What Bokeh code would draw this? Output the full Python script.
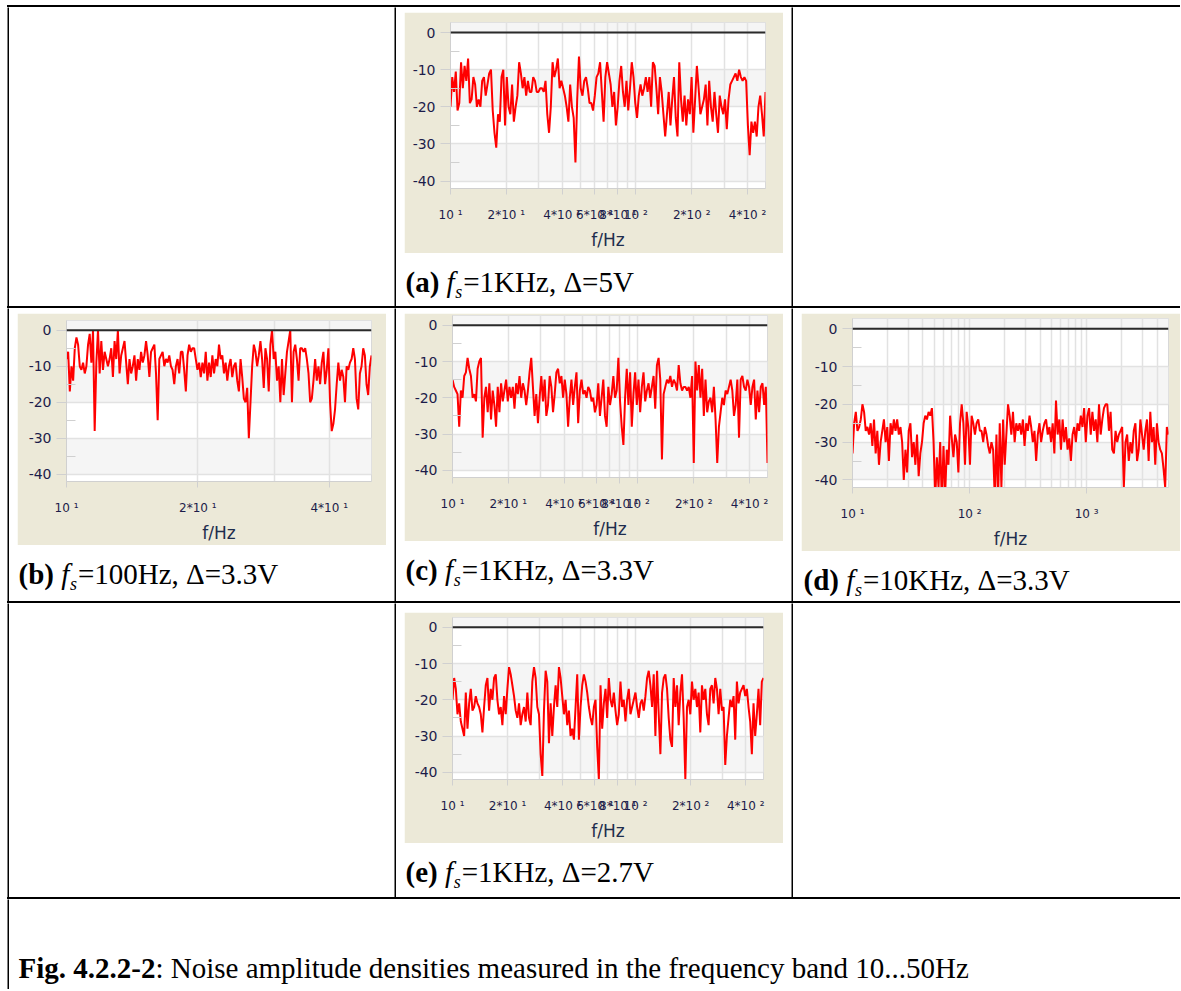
import numpy as np
from bokeh.plotting import figure
from bokeh.layouts import row, column
from bokeh.models import Spacer, Range1d, FixedTicker, Span, BoxAnnotation
from bokeh.core.properties import value
from bokeh.embed import file_html
from bokeh.resources import INLINE

# ------------------------------------------------------------------ data
Y_RANGE = (-42.0, 2.7)
Y_TICKS = [-40, -30, -20, -10, 0]
Y_TICK_LABELS = ["-40", "-30", "-20", "-10", "0"]
Y_MINOR_TICKS = [-35, -25, -15, -5]
X_LABEL = "f/Hz"

F_RANGE_1K = (10, 500)
X_TICKS_1K = [10, 20, 40, 60, 80, 100, 200, 400]
X_TICK_LABELS_1K = ["10 ¹", "2*10 ¹", "4*10 ¹", "6*10 ¹", "8*10 ¹", "10 ²", "2*10 ²", "4*10 ²"]
X_GRID_1K = [10, 20, 30, 40, 50, 60, 70, 80, 90, 100, 200, 300, 400, 500]

F_RANGE_100 = (10, 50)
X_TICKS_100 = [10, 20, 40]
X_TICK_LABELS_100 = ["10 ¹", "2*10 ¹", "4*10 ¹"]
X_GRID_100 = [10, 20, 30, 40, 50]

F_RANGE_10K = (10, 5000)
X_TICKS_10K = [10, 100, 1000]
X_TICK_LABELS_10K = ["10 ¹", "10 ²", "10 ³"]
X_GRID_10K = [10, 20, 30, 40, 50, 60, 70, 80, 90, 100, 200, 300, 400, 500, 600, 700,
              800, 900, 1000, 2000, 3000, 4000, 5000]

# (a) fs=1KHz, delta=5V  (dB)
A_DB = [-20, -12, -16, -10.5, -21, -19, -8, -15, -9, -13, -7, -19, -18, -12, -14, -20, -18, -20, -13, -12,
        -17, -14, -11, -10, -21, -27, -31, -22, -24, -12, -10, -25, -12, -20, -22, -14, -24, -20, -17, -8,
        -11, -15, -12, -17, -13, -16, -16, -12, -13, -16, -16, -15, -15, -16, -13, -22, -27, -20, -8, -12,
        -10, -7, -15, -13, -15, -17, -20, -24, -14, -20, -23, -35, -18, -6.5, -15,
        -17, -13, -12, -15, -19, -19, -21, -17, -12, -11, -8, -16, -24, -12, -8, -11, -14, -20, -16, -25,
        -20, -13, -9, -16, -20, -13, -21, -15, -8, -12, -19, -23, -17, -14, -17, -15, -12, -16, -12, -20,
        -8, -9, -15, -22, -12, -16, -22, -28, -22, -16, -25, -18, -12, -23, -28, -8, -18, -24, -17, -25,
        -18, -22, -12, -27, -18, -9, -15, -22, -20, -18, -14, -25, -13, -20, -24, -16, -22, -27, -17, -20,
        -22, -18, -26, -18, -14, -13, -12, -11, -13, -10, -12, -13, -12, -13, -25, -33, -24, -27, -24, -28,
        -20, -17, -22, -28, -16]

# (b) fs=100Hz, delta=3.3V
B_DB = [-8, -6, -17, -10, -14, -5, -2, -4, -10, -11, -9, -12, -10, -4, -1, -9, 0, -28, -9, 0,
        -12, -3, -11, -6, -8, -10, -8, -5, -13, -3, -8, 0, -12, -7, -5, -3, -9, -15, -8, -12,
        -10, -7, -14, -8, -11, -6, -9, -7, -3, -7, -13, -6, -5, -4, -12, -25, -8, -7, -6, -10,
        -8, -9, -7, -10, -11, -15, -10, -8, -12, -6, -6, -11, -17, -7, -4, -6, -5, -5, -8, -11,
        -9, -13, -9, -12, -6, -14, -9, -13, -7, -12, -8, -10, -4, -8, -7, -12, -9, -14, -10, -8,
        -13, -10, -9, -14, -17, -8, -13, -19, -20, -16, -30, -20, -10, -4, -6, -10, -7, -3, -8, -16,
        -5, -8, -17, -4, 0, -8, -6, -14, -10, -20, -8, -18, -12, -6, -3, 0, -20, -6, -4, -8,
        -14, -5, -5, -6, -5, -8, -12, -20, -19, -14, -8, -14, -10, -15, -9, -6, -15, -11, -5, -20,
        -28, -26, -22, -15, -9, -14, -11, -13, -20, -10, -11, -9, -8, -5, -8, -19, -22, -12, -10, -5,
        -7, -15, -18, -10, -7]

# (c) fs=1KHz, delta=3.3V
C_DB = [-15, -17, -18, -19, -28, -18, -20, -14, -13, -9, -12, -14, -20, -19, -21, -12, -10, -9, -31, -20,
        -17, -24, -16, -26, -18, -22, -28, -17, -24, -16, -21, -18, -15, -21, -17, -20, -17, -23, -16, -19,
        -14, -20, -16, -18, -22, -18, -13, -9, -17, -25, -19, -27, -20, -14, -21, -15, -25, -22, -14, -17,
        -24, -19, -13, -12, -16, -14, -20, -15, -19, -28, -20, -15, -22, -17, -13, -27, -18, -15, -19, -18,
        -20, -17, -18, -21, -20, -24, -22, -16, -25, -20, -15, -25, -28, -17, -22, -19, -14, -20, -18, -9,
        -21, -28, -33, -20, -12, -22, -13, -28, -19, -13, -22, -15, -24, -17, -13, -21, -18, -16, -20, -17,
        -14, -23, -11, -9, -15, -37, -19, -17, -15, -16, -14, -17, -15, -16, -18, -11, -16, -18, -17, -17,
        -18, -17, -20, -14, -38, -10, -18, -11, -20, -12, -25, -15, -24, -21, -20, -24, -17, -26, -38, -28,
        -24, -20, -22, -18, -19, -17, -15, -18, -25, -22, -15, -31, -15, -14, -17, -18, -15, -17, -22, -17,
        -15, -26, -18, -24, -17, -16, -22, -17, -38]

# (d) fs=10KHz, delta=3.3V
D_DB = [-33, -25, -22, -27, -26, -24, -20, -22, -27, -26, -28, -25, -31, -24, -33, -27, -36, -30, -27, -24,
        -30, -26, -35, -25, -28, -24, -27, -24, -28, -26, -30, -40, -32, -38, -27, -25, -34, -30, -36, -28,
        -39, -33, -30, -25, -23, -24, -22, -23, -21, -30, -45, -34, -42, -30, -46, -31, -44, -32, -36, -23,
        -29, -34, -28, -30, -38, -25, -20, -25, -36, -22, -26, -36, -23, -25, -28, -25, -24, -27, -27, -30,
        -26, -28, -31, -33, -30, -32, -45, -28, -45, -25, -42, -24, -36, -28, -20, -23, -28, -22, -30, -25,
        -27, -25, -28, -24, -31, -25, -27, -23, -26, -30, -27, -35, -28, -25, -30, -27, -25, -24, -28, -26,
        -30, -25, -33, -19, -28, -24, -32, -24, -30, -26, -32, -29, -35, -28, -26, -30, -25, -27, -23, -26,
        -21, -30, -23, -21, -28, -22, -27, -24, -30, -20, -28, -24, -21, -20, -20, -27, -22, -32, -33, -27,
        -30, -28, -27, -26, -42, -30, -28, -35, -30, -33, -27, -25, -35, -32, -24, -28, -32, -27, -24, -35,
        -22, -30, -26, -36, -25, -30, -32, -33, -37, -42, -26, -28]

# (e) fs=1KHz, delta=2.7V
E_DB = [-20, -14, -17, -24, -21, -26, -28, -30, -18, -28, -21, -17, -23, -22, -19, -21, -22, -24, -29, -22,
        -16, -14, -23, -17, -20, -14, -13, -20, -24, -22, -27, -19, -24, -17, -11, -13, -16, -19, -23, -25,
        -21, -27, -24, -22, -26, -18, -25, -27, -15, -11, -14, -22, -24, -35, -41, -23, -12, -15, -32, -21,
        -30, -22, -16, -22, -11, -14, -19, -24, -20, -27, -23, -30, -28, -31, -22, -13, -31, -22, -16, -13,
        -15, -18, -22, -25, -27, -22, -20, -33, -42, -16, -28, -21, -17, -25, -14, -20, -22, -18, -23, -27,
        -24, -15, -22, -20, -26, -20, -17, -24, -22, -20, -18, -22, -25, -21, -20, -23, -19, -14, -12, -16,
        -22, -13, -30, -12, -24, -35, -18, -14, -13, -17, -25, -31, -33, -14, -22, -16, -27, -18, -13, -25,
        -42, -22, -20, -24, -15, -20, -17, -22, -18, -29, -16, -20, -17, -24, -27, -17, -16, -21, -14, -17,
        -24, -17, -23, -22, -38, -30, -25, -20, -22, -19, -31, -15, -21, -18, -17, -16, -19, -17, -22, -26,
        -35, -21, -30, -24, -17, -27, -15, -14]

CAPTION_TAGS = ["(a)", "(b)", "(c)", "(d)", "(e)"]
CAPTION_TEXTS = ["=1KHz, Δ=5V", "=100Hz, Δ=3.3V", "=1KHz, Δ=3.3V", "=10KHz, Δ=3.3V", "=1KHz, Δ=2.7V"]
FIG_TAG = "Fig. 4.2.2-2"
FIG_TEXT = ": Noise amplitude densities measured in the frequency band 10...50Hz"

# ------------------------------------------------------------------ style
BEIGE = "#ECE9D8"
BAND = "#f5f5f5"
GRID_C = "#e2e2e2"
TICK_C = "#d0d0d0"
LABEL_C = "#1c1c4a"
SANS = "DejaVu Sans"
SERIF = "Liberation Serif"
CAP_SIZE = 29
BASE_SHIFT = 0.35   # measured: rendered baseline sits this many em below y

# Times metrics (per 1000 em) for positioning caption pieces
BOLD_W = {'(': 333, ')': 333, 'a': 500, 'b': 556, 'c': 444, 'd': 556, 'e': 444, 'F': 611,
          'i': 278, 'g': 500, '.': 250, ' ': 250, '4': 500, '2': 500, '-': 333}


def text_width(s, table, size):
    return sum(table.get(c, 500) for c in s) / 1000.0 * size


def chart(w, h, borders, f_range, db, ticks, labels, grid):
    l, r, t, b = borders
    p = figure(width=w, height=h, x_axis_type="log", title=None,
               x_range=Range1d(*f_range), y_range=Range1d(*Y_RANGE),
               output_backend="svg", toolbar_location=None,
               min_border_left=l, min_border_right=r, min_border_top=t, min_border_bottom=b,
               background_fill_color="white", border_fill_color=BEIGE,
               outline_line_color="#d8d8d8")
    for lo, hi in [(-40, -30), (-20, -10), (0, Y_RANGE[1])]:
        p.add_layout(BoxAnnotation(bottom=lo, top=hi, fill_color=BAND, fill_alpha=1.0,
                                   line_alpha=0, level="image"))
    freqs = np.geomspace(f_range[0], f_range[1], len(db))
    p.line(freqs, db, line_color="#ff0000", line_width=2)
    p.add_layout(Span(location=0, dimension="width", line_color="#2a2a2a", line_width=2))

    xa = p.xaxis[0]
    xa.ticker = FixedTicker(ticks=ticks, minor_ticks=[])
    xa.major_label_overrides = {tk: lb for tk, lb in zip(ticks, labels)}
    xa.axis_label = X_LABEL
    xa.axis_label_text_font = SANS
    xa.axis_label_text_font_size = "17px"
    xa.axis_label_text_font_style = "normal"
    xa.axis_label_text_color = "#1e2d4d"
    xa.axis_label_standoff = 5
    xa.major_label_text_font = SANS
    xa.major_label_text_font_size = "12px"
    xa.major_label_text_color = LABEL_C
    xa.major_label_standoff = 13
    xa.axis_line_color = TICK_C
    xa.major_tick_line_color = TICK_C
    xa.major_tick_out = 6
    xa.major_tick_in = 0

    ya = p.yaxis[0]
    ya.ticker = FixedTicker(ticks=Y_TICKS, minor_ticks=Y_MINOR_TICKS)
    ya.major_label_overrides = {tk: lb for tk, lb in zip(Y_TICKS, Y_TICK_LABELS)}
    ya.major_label_text_font = SANS
    ya.major_label_text_font_size = "14px"
    ya.major_label_text_color = LABEL_C
    ya.major_label_standoff = 5
    ya.axis_line_color = TICK_C
    ya.major_tick_line_color = TICK_C
    ya.major_tick_out = 10
    ya.major_tick_in = 0
    ya.minor_tick_line_color = TICK_C
    ya.minor_tick_in = 9
    ya.minor_tick_out = 0

    p.xgrid[0].ticker = FixedTicker(ticks=grid)
    p.xgrid[0].grid_line_color = GRID_C
    p.xgrid[0].grid_line_width = 1.5
    p.ygrid[0].ticker = FixedTicker(ticks=Y_TICKS)
    p.ygrid[0].grid_line_color = GRID_C
    p.ygrid[0].grid_line_width = 1.5
    return p


def blank_fig(w, h, color):
    return figure(width=w, height=h, x_axis_type=None, y_axis_type=None, title=None,
                  output_backend="svg", toolbar_location=None, min_border=0,
                  outline_line_color=None, background_fill_color=color,
                  border_fill_color=color)


def caption_fig(w, h, x0, base, tag, text, size=CAP_SIZE, sub=True):
    p = figure(width=w, height=h, x_range=Range1d(0, w), y_range=Range1d(h, 0),
               x_axis_type=None, y_axis_type=None, output_backend="svg", title=None,
               toolbar_location=None, min_border=0, outline_line_color=None,
               background_fill_color="white", border_fill_color="white")
    common = dict(text_font=value(SERIF), text_baseline="alphabetic", text_align="left",
                  text_color="black")
    y = base - BASE_SHIFT * size
    p.text(x=[x0], y=[y], text=[tag], text_font_size=f"{size}px",
           text_font_style="bold", **common)
    x = x0 + text_width(tag, BOLD_W, size)
    if sub:
        x += 0.25 * size
        p.text(x=[x], y=[y], text=["f"], text_font_size=f"{size}px",
               text_font_style="italic", **common)
        x += 0.30 * size
        ss = round(size * 0.62)
        p.text(x=[x], y=[base + 0.2 * size - BASE_SHIFT * ss], text=["s"],
               text_font_size=f"{ss}px", text_font_style="italic", **common)
        x += 0.389 * ss + 1
    p.text(x=[x], y=[y], text=[text], text_font_size=f"{size}px",
           text_font_style="normal", **common)
    return p


def vline(h):
    return blank_fig(2, h, "black")


def hline(w):
    return row(Spacer(width=LEFT, height=2),
               Spacer(width=w, height=2, styles={"background-color": "black"}))


def cell(w, h, top, left, cw, ch, chart_fig, cap_x, tag, text):
    right = w - left - cw
    kids = [Spacer(width=left, height=ch), chart_fig]
    if right > 0:
        kids.append(Spacer(width=right, height=ch))
    cap_h = h - top - ch
    return column(Spacer(width=w, height=top), row(*kids),
                  caption_fig(w, cap_h, cap_x, 39, tag, text))


LEFT = 7                      # blank page strip left of the table
TOP = 5                       # blank page strip above the table
W1, W2, W3 = 385, 395, 387    # column widths
H1, H2, H3, H4 = 299, 293, 294, 90
LINE_W = 2 + W1 + 2 + W2 + 2 + W3

ch_a = chart(379, 241, (46, 18, 10, 65), F_RANGE_1K, A_DB, X_TICKS_1K, X_TICK_LABELS_1K, X_GRID_1K)
ch_b = chart(369, 232, (49, 15, 7, 62), F_RANGE_100, B_DB, X_TICKS_100, X_TICK_LABELS_100, X_GRID_100)
ch_c = chart(379, 228, (48, 16, 2, 59), F_RANGE_1K, C_DB, X_TICKS_1K, X_TICK_LABELS_1K, X_GRID_1K)
ch_d = chart(379, 238, (51, 12, 5, 64), F_RANGE_10K, D_DB, X_TICKS_10K, X_TICK_LABELS_10K, X_GRID_10K)
ch_e = chart(379, 231, (48, 20, 5, 59), F_RANGE_1K, E_DB, X_TICKS_1K, X_TICK_LABELS_1K, X_GRID_1K)

cell_a = cell(W2, H1, 5, 8, 379, 241, ch_a, 9, CAPTION_TAGS[0], CAPTION_TEXTS[0])
cell_b = cell(W1, H2, 5, 8, 369, 232, ch_b, 9, CAPTION_TAGS[1], CAPTION_TEXTS[1])
cell_c = cell(W2, H2, 5, 8, 379, 228, ch_c, 9, CAPTION_TAGS[2], CAPTION_TEXTS[2])
cell_d = cell(W3, H2, 5, 8, 379, 238, ch_d, 10, CAPTION_TAGS[3], CAPTION_TEXTS[3])
cell_e = cell(W2, H3, 9, 8, 379, 231, ch_e, 9, CAPTION_TAGS[4], CAPTION_TEXTS[4])

row1 = row(Spacer(width=LEFT, height=H1), vline(H1), Spacer(width=W1, height=H1), vline(H1),
           cell_a, vline(H1), Spacer(width=W3, height=H1))
row2 = row(Spacer(width=LEFT, height=H2), vline(H2), cell_b, vline(H2), cell_c, vline(H2), cell_d)
row3 = row(Spacer(width=LEFT, height=H3), vline(H3), Spacer(width=W1, height=H3), vline(H3),
           cell_e, vline(H3), Spacer(width=W3, height=H3))
row4 = row(Spacer(width=LEFT, height=H4), vline(H4),
           caption_fig(LINE_W - 2, H4, 9, 79, FIG_TAG, FIG_TEXT, sub=False))

root = column(Spacer(width=LEFT + LINE_W, height=TOP), hline(LINE_W), row1, hline(LINE_W), row2,
              hline(LINE_W), row3, hline(LINE_W), row4)

open("out.html", "w").write(file_html(root, INLINE, title="Noise amplitude densities"))
